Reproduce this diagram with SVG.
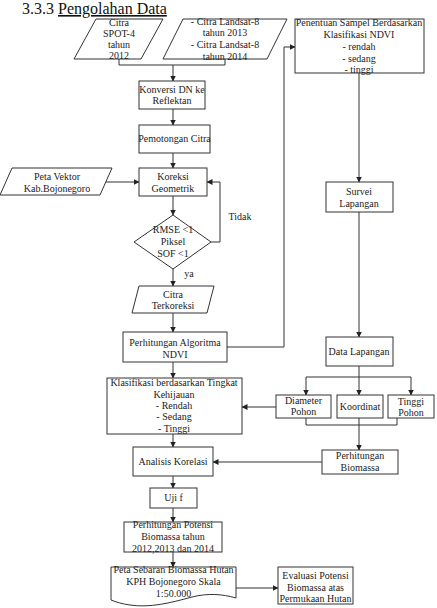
<svg xmlns="http://www.w3.org/2000/svg" width="437" height="608" viewBox="0 0 437 608" font-family="'Liberation Serif', 'Times New Roman', serif">
<defs>
<marker id="ah" markerWidth="6" markerHeight="6" refX="5.5" refY="3" orient="auto" markerUnits="userSpaceOnUse">
<path d="M0,0 L6,3 L0,6 Z" fill="#222"/>
</marker>
<style>
.s{fill:#fff;stroke:#333;stroke-width:1}
.c{fill:none;stroke:#333;stroke-width:1}
.a{marker-end:url(#ah)}
text{font-family:"Liberation Serif","Times New Roman",serif;font-size:10px;fill:#222;text-anchor:middle}
.t{font-size:16px;text-anchor:start;fill:#111}
</style>
</defs>
<rect width="437" height="608" fill="#fff"/>
<text class="t" x="22" y="14">3.3.3 <tspan text-decoration="underline">Pengolahan Data</tspan></text>

<g id="connectors">
<path class="c" d="M119,59 V65 H225 V59"/>
<path class="c a" d="M173,65 V81"/>
<path class="c a" d="M173,109 V125"/>
<path class="c a" d="M173,153 V168"/>
<path class="c a" d="M106,182 H139"/>
<path class="c a" d="M173,196 V215"/>
<path class="c a" d="M211,242 H220 V182 H207"/>
<path class="c a" d="M173,269 V286"/>
<path class="c a" d="M173,313 V332"/>
<path class="c a" d="M227,347 H284 V47 H295"/>
<path class="c a" d="M359,73 V182"/>
<path class="c a" d="M359,212 V337"/>
<path class="c" d="M359,366 V377"/>
<path class="c a" d="M306,377 H411 V395"/>
<path class="c a" d="M306,377 V395"/>
<path class="c a" d="M359,377 V395"/>
<path class="c a" d="M173,362 V378"/>
<path class="c a" d="M276,407 H242"/>
<path class="c" d="M306,418 V425 H397 V418"/>
<path class="c a" d="M359,418 V450"/>
<path class="c a" d="M322,462 H213"/>
<path class="c a" d="M173,434 V447"/>
<path class="c a" d="M173,476 V488"/>
<path class="c a" d="M173,508 V522"/>
<path class="c a" d="M173,552 V567"/>
<path class="c a" d="M236,588 H278"/>
</g>

<g id="citra-spot">
<path class="s" d="M96,19 H163 L141,59 H74 Z"/>
<text x="119" y="26">Citra</text>
<text x="119" y="37">SPOT-4</text>
<text x="119" y="48">tahun</text>
<text x="119" y="59">2012</text>
</g>
<g id="citra-landsat">
<path class="s" d="M183,19 H287 L267,59 H163 Z"/>
<text x="225" y="25">- Citra Landsat-8</text>
<text x="225" y="36">tahun 2013</text>
<text x="225" y="48">- Citra Landsat-8</text>
<text x="225" y="60">tahun 2014</text>
</g>
<g id="konversi">
<rect class="s" x="139" y="81" width="66" height="28"/>
<text x="172" y="93">Konversi DN ke</text>
<text x="172" y="104">Reflektan</text>
</g>
<g id="pemotongan">
<rect class="s" x="139" y="125" width="71" height="28"/>
<text x="174.5" y="142">Pemotongan Citra</text>
</g>
<g id="peta-vektor">
<path class="s" d="M12,168 H112 L100,195 H0 Z"/>
<text x="57" y="180">Peta Vektor</text>
<text x="57" y="192">Kab.Bojonegoro</text>
</g>
<g id="koreksi">
<rect class="s" x="139" y="168" width="68" height="28"/>
<text x="173" y="180">Koreksi</text>
<text x="173" y="192">Geometrik</text>
</g>
<g id="rmse">
<path class="s" d="M173,215 L211,242 L173,269 L134,242 Z"/>
<text x="173" y="233">RMSE &lt;1</text>
<text x="173" y="245">Piksel</text>
<text x="173" y="257">SOF &lt;1</text>
</g>
<text x="240" y="220">Tidak</text>
<text x="189" y="277">ya</text>
<g id="citra-terkoreksi">
<path class="s" d="M139,286 H214 L207,313 H132 Z"/>
<text x="173" y="298">Citra</text>
<text x="173" y="309">Terkoreksi</text>
</g>
<g id="ndvi">
<rect class="s" x="123" y="332" width="104" height="30"/>
<text x="175" y="346">Perhitungan Algoritma</text>
<text x="175" y="358">NDVI</text>
</g>
<g id="penentuan">
<rect class="s" x="295" y="19" width="129" height="54"/>
<text x="359" y="26">Penentuan Sampel Berdasarkan</text>
<text x="359" y="38">Klasifikasi NDVI</text>
<text x="359" y="50">- rendah</text>
<text x="359" y="62">- sedang</text>
<text x="359" y="73">- tinggi</text>
</g>
<g id="survei">
<rect class="s" x="326" y="182" width="67" height="30"/>
<text x="359" y="195">Survei</text>
<text x="359" y="207">Lapangan</text>
</g>
<g id="data-lapangan">
<rect class="s" x="326" y="337" width="67" height="29"/>
<text x="359" y="355">Data Lapangan</text>
</g>
<g id="diameter">
<rect class="s" x="276" y="395" width="55" height="23"/>
<text x="303.5" y="404">Diameter</text>
<text x="303.5" y="415">Pohon</text>
</g>
<g id="koordinat">
<rect class="s" x="337" y="395" width="46" height="23"/>
<text x="360" y="410">Koordinat</text>
</g>
<g id="tinggi">
<rect class="s" x="388" y="395" width="46" height="23"/>
<text x="411" y="405">Tinggi</text>
<text x="411" y="416">Pohon</text>
</g>
<g id="klasifikasi">
<rect class="s" x="107" y="378" width="135" height="56"/>
<text x="174" y="386">Klasifikasi berdasarkan Tingkat</text>
<text x="174" y="398">Kehijauan</text>
<text x="174" y="409">- Rendah</text>
<text x="174" y="420">- Sedang</text>
<text x="174" y="432">- Tinggi</text>
</g>
<g id="perhitungan-biomassa">
<rect class="s" x="322" y="450" width="76" height="24"/>
<text x="360" y="459">Perhitungan</text>
<text x="360" y="471">Biomassa</text>
</g>
<g id="analisis">
<rect class="s" x="133" y="447" width="80" height="29"/>
<text x="173" y="465">Analisis Korelasi</text>
</g>
<g id="uji-f">
<rect class="s" x="150" y="488" width="47" height="20"/>
<text x="173.5" y="501">Uji f</text>
</g>
<g id="potensi">
<rect class="s" x="124" y="522" width="98" height="30"/>
<text x="173" y="528">Perhitungan Potensi</text>
<text x="173" y="540">Biomassa tahun</text>
<text x="173" y="552">2012,2013 dan 2014</text>
</g>
<g id="peta-sebaran">
<path class="s" d="M111,567 H236 V598 C222,594 208,593 192,597 C170,603 150,608 130,605 C122,604 116,602 111,600 Z"/>
<text x="173.5" y="573">Peta Sebaran Biomassa Hutan</text>
<text x="173.5" y="585">KPH Bojonegoro Skala</text>
<text x="173.5" y="597">1:50.000</text>
</g>
<g id="evaluasi">
<rect class="s" x="278" y="567" width="75" height="37"/>
<text x="315.5" y="579">Evaluasi Potensi</text>
<text x="315.5" y="591">Biomassa atas</text>
<text x="315.5" y="602">Permukaan Hutan</text>
</g>
</svg>
